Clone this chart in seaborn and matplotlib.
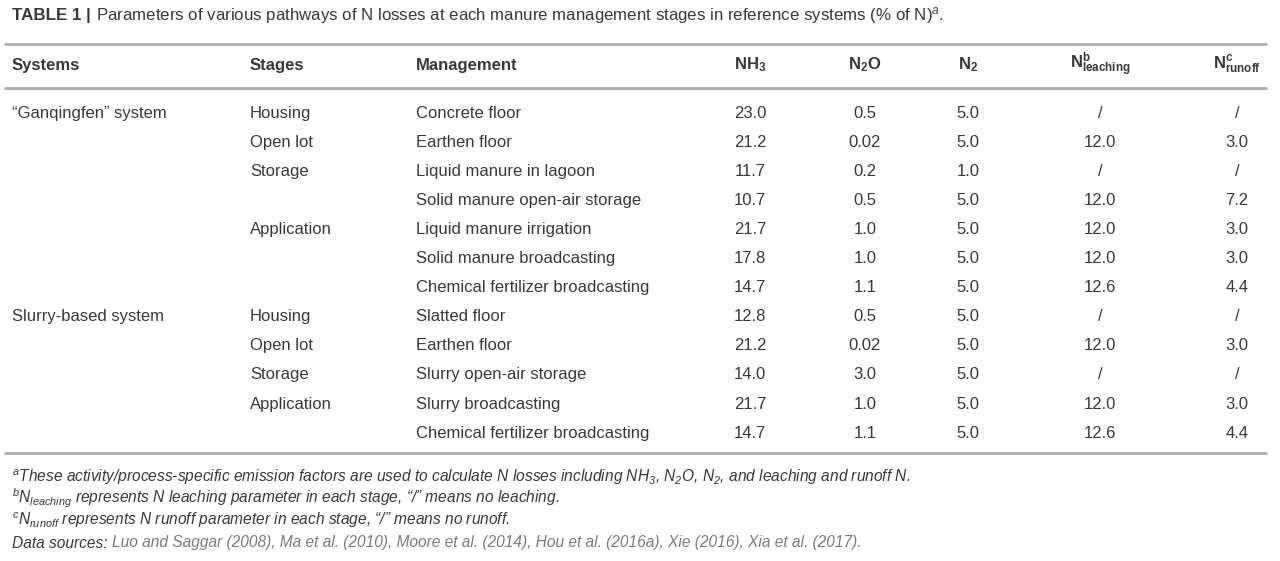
import matplotlib
matplotlib.use("Agg")
import matplotlib.pyplot as plt
import seaborn as sns
from matplotlib import font_manager

# table content
systems = ["\u201cGanqingfen\u201d system", "", "", "", "", "", "",
           "Slurry-based system", "", "", "", ""]
stages = ["Housing", "Open lot", "Storage", "", "Application", "", "",
          "Housing", "Open lot", "Storage", "Application", ""]
management = ["Concrete floor", "Earthen floor", "Liquid manure in lagoon",
              "Solid manure open-air storage", "Liquid manure irrigation",
              "Solid manure broadcasting", "Chemical fertilizer broadcasting",
              "Slatted floor", "Earthen floor", "Slurry open-air storage",
              "Slurry broadcasting", "Chemical fertilizer broadcasting"]
nh3 = ["23.0", "21.2", "11.7", "10.7", "21.7", "17.8", "14.7",
       "12.8", "21.2", "14.0", "21.7", "14.7"]
n2o = ["0.5", "0.02", "0.2", "0.5", "1.0", "1.0", "1.1",
       "0.5", "0.02", "3.0", "1.0", "1.1"]
n2 = ["5.0", "5.0", "1.0", "5.0", "5.0", "5.0", "5.0",
      "5.0", "5.0", "5.0", "5.0", "5.0"]
n_leaching = ["/", "12.0", "/", "12.0", "12.0", "12.0", "12.6",
              "/", "12.0", "/", "12.0", "12.6"]
n_runoff = ["/", "3.0", "/", "7.2", "3.0", "3.0", "4.4",
            "/", "3.0", "/", "3.0", "4.4"]

headers = ["Systems", "Stages", "Management",
           r"$\mathregular{NH_3}$", r"$\mathregular{N_2O}$", r"$\mathregular{N_2}$",
           r"$\mathregular{N^{b}_{leaching}}$", r"$\mathregular{N^{c}_{runoff}}$"]

sns.set_theme(style="white")
names = {f.name for f in font_manager.fontManager.ttflist}
FONT = "Liberation Sans Narrow" if "Liberation Sans Narrow" in names else "Liberation Sans"
plt.rcParams["font.family"] = [FONT, "DejaVu Sans"]
plt.rcParams["mathtext.fontset"] = "custom"
plt.rcParams["mathtext.rm"] = FONT
plt.rcParams["mathtext.it"] = FONT + ":italic"
plt.rcParams["mathtext.bf"] = FONT + ":bold"

TXT = "#383838"
GREY = "#7a7a7a"
RULE = "#ababab"
FS = 12

fig = plt.figure(figsize=(12.8, 5.61), dpi=100)
ax = fig.add_axes([0, 0, 1, 1])
ax.set_xlim(0, 1280)
ax.set_ylim(561, 0)
ax.axis("off")
renderer = fig.canvas.get_renderer()


def chain(x, y, parts, **kw):
    # draw text pieces one after another on the same baseline
    for s, opts in parts:
        t = ax.text(x, y, s, va="center", ha="left", **{**kw, **opts})
        bb = t.get_window_extent(renderer=renderer)
        x += bb.width
    return x


chain(12, 15, [("TABLE 1 | ", dict(fontweight="bold")),
               ("Parameters of various pathways of N losses at each manure management "
                "stages in reference systems (% of N)$^{a}$.", {})],
      fontsize=12.2, color=TXT)

# rules
for yy in (44, 88, 453):
    ax.plot([4, 1267], [yy, yy], color=RULE, lw=2, solid_capstyle="butt")

left_cols = [12, 250, 416]
num_cols = [750, 865, 968, 1100, 1237]

header_y = 65
for i, h in enumerate(headers):
    if i < 3:
        ax.text(left_cols[i], header_y, h, ha="left", va="center",
                fontsize=FS, fontweight="bold", color=TXT)
    else:
        ax.text(num_cols[i - 3], header_y, h, ha="center", va="center",
                fontsize=FS, fontweight="bold", color=TXT)

row_top, row_h = 113, 29.1
for r in range(len(management)):
    y = row_top + r * row_h
    for x, col in zip(left_cols, (systems, stages, management)):
        ax.text(x, y, col[r], ha="left", va="center", fontsize=FS, color=TXT)
    for x, col in zip(num_cols, (nh3, n2o, n2, n_leaching, n_runoff)):
        ax.text(x, y, col[r], ha="center", va="center", fontsize=FS, color=TXT)

FN = 11.2
notes_y = [477, 498, 520, 543]
ax.text(12, notes_y[0],
        r"$^{a}$These activity/process-specific emission factors are used to calculate N losses including "
        r"$\mathregular{NH_3}$, $\mathregular{N_2O}$, $\mathregular{N_2}$, and leaching and runoff N.",
        ha="left", va="center", fontsize=FN, style="italic", color=TXT)
ax.text(12, notes_y[1],
        "$^{b}\\mathregular{N_{leaching}}$ represents N leaching parameter in each stage, "
        "\u201c/\u201d means no leaching.",
        ha="left", va="center", fontsize=FN, style="italic", color=TXT)
ax.text(12, notes_y[2],
        "$^{c}\\mathregular{N_{runoff}}$ represents N runoff parameter in each stage, "
        "\u201c/\u201d means no runoff.",
        ha="left", va="center", fontsize=FN, style="italic", color=TXT)
chain(12, notes_y[3], [("Data sources: ", dict(color=TXT)),
                       ("Luo and Saggar (2008), Ma et al. (2010), Moore et al. (2014), "
                        "Hou et al. (2016a), Xie (2016), Xia et al. (2017).", dict(color=GREY))],
      fontsize=FN, style="italic")

fig.savefig("out.png", dpi=100)
